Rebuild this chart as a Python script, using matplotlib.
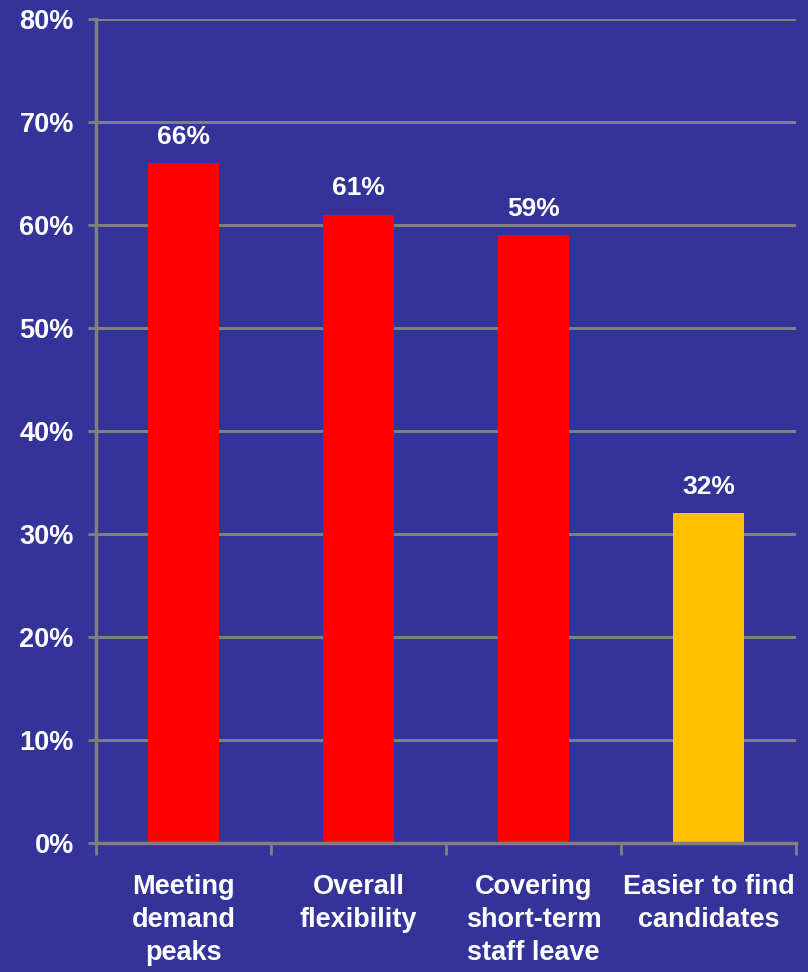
"""Bar chart of reasons for using temporary staff."""
import matplotlib.pyplot as plt
from matplotlib.ticker import FixedLocator, PercentFormatter

categories = ['Meeting\ndemand\npeaks', 'Overall\nflexibility',
              'Covering\nshort-term\nstaff leave', 'Easier to find\ncandidates']
values = [66, 61, 59, 32]
bar_colors = ['#ff0000', '#ff0000', '#ff0000', '#ffc000']

BG = '#333399'
GRID = '#808080'

plt.rcParams['font.family'] = ['Liberation Sans', 'DejaVu Sans']
plt.rcParams['font.weight'] = 'bold'

fig = plt.figure(figsize=(8.08, 9.72), dpi=100, facecolor=BG)
ax = fig.add_axes([96 / 808, 1 - 843 / 972, 700 / 808, 824 / 972], facecolor=BG)

x = range(len(values))
ax.bar(x, values, width=0.41, color=bar_colors, zorder=3)
for xi, v in zip(x, values):
    ax.text(xi, v + 1.4, f'{v}%', ha='center', va='bottom', color='white',
            fontsize=19, fontweight='bold')

ax.set_xlim(-0.5, len(values) - 0.5)
ax.set_ylim(0, 80)
ax.set_yticks(range(0, 81, 10))
ax.yaxis.set_major_formatter(PercentFormatter(decimals=0))
ax.yaxis.grid(True, color=GRID, linewidth=2.2, zorder=1)

ax.set_xticks(list(x))
ax.set_xticklabels(categories, color='white', fontsize=19.5, fontweight='bold',
                   linespacing=1.36)
ax.xaxis.set_minor_locator(FixedLocator([i - 0.5 for i in range(len(values) + 1)]))
ax.tick_params(axis='x', which='major', length=0, pad=22)
ax.tick_params(axis='x', which='minor', length=8.5, width=2, color=GRID)
ax.tick_params(axis='y', length=6, width=2, color=GRID, labelcolor='white',
               labelsize=19.5, pad=10)
for lab in ax.get_yticklabels():
    lab.set_fontweight('bold')

for side in ['top', 'right']:
    ax.spines[side].set_visible(False)
for side in ['left', 'bottom']:
    ax.spines[side].set_color(GRID)
    ax.spines[side].set_linewidth(2.5)
    ax.spines[side].set_zorder(4)

fig.savefig('out.png', dpi=100, facecolor=BG)
